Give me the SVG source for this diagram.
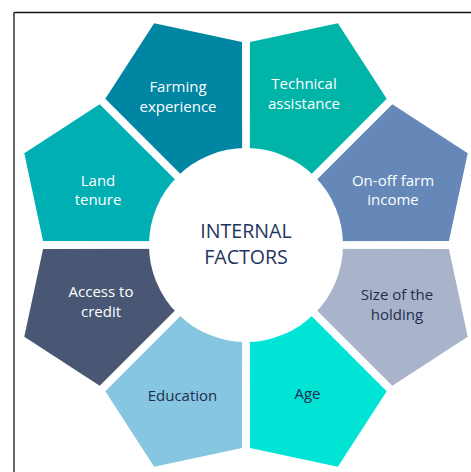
<svg xmlns="http://www.w3.org/2000/svg" xmlns:xlink="http://www.w3.org/1999/xlink" width="471" height="472" viewBox="0 0 471 472">
  <style>
    .lbl { font-family: "Open Sans", "Noto Sans", "Liberation Sans", sans-serif; font-size: 15px; text-anchor: middle; }
    .light { fill: #FFFFFF; }
    .dark { fill: #1F2D50; }
    .center { font-family: "Open Sans", "Noto Sans", "Liberation Sans", sans-serif; font-size: 19.6px; text-anchor: middle; fill: #1F3560; }
  </style>
  <defs>
    <polygon id="kite" points="0,-10 74,-189 0,-240 -74,-189"/>
  </defs>
  <rect x="0" y="0" width="471" height="472" fill="#FFFFFF"/>
  <g id="frame">
    <line x1="14" y1="12.5" x2="471" y2="12.5" stroke="#111111" stroke-width="1.4"/>
    <line x1="14" y1="12" x2="14" y2="472" stroke="#555555" stroke-width="1.8"/>
  </g>
  <g id="connectors"></g>
  <g id="node-farming">
    <use xlink:href="#kite" href="#kite" transform="translate(246 245) rotate(-22.5)" fill="#0085A3"/>
    <text class="lbl light"><tspan x="178" y="92">Farming</tspan><tspan x="178" y="112">experience</tspan></text>
  </g>
  <g id="node-technical">
    <use xlink:href="#kite" href="#kite" transform="translate(246 245) rotate(22.5)" fill="#00B4A8"/>
    <text class="lbl light"><tspan x="304" y="89">Technical</tspan><tspan x="304" y="108.5">assistance</tspan></text>
  </g>
  <g id="node-onoff">
    <use xlink:href="#kite" href="#kite" transform="translate(246 245) rotate(67.5)" fill="#6688B8"/>
    <text class="lbl light"><tspan x="393" y="185.5">On-off farm</tspan><tspan x="393" y="205">income</tspan></text>
  </g>
  <g id="node-size">
    <use xlink:href="#kite" href="#kite" transform="translate(246 245) rotate(112.5)" fill="#A9B4CA"/>
    <text class="lbl dark"><tspan x="397" y="299.5">Size of the</tspan><tspan x="397" y="319.5">holding</tspan></text>
  </g>
  <g id="node-age">
    <use xlink:href="#kite" href="#kite" transform="translate(246 245) rotate(157.5)" fill="#00E4D6"/>
    <text class="lbl dark" x="307.5" y="398.5">Age</text>
  </g>
  <g id="node-education">
    <use xlink:href="#kite" href="#kite" transform="translate(246 245) rotate(202.5)" fill="#86C6E1"/>
    <text class="lbl dark" x="182.5" y="401">Education</text>
  </g>
  <g id="node-credit">
    <use xlink:href="#kite" href="#kite" transform="translate(246 245) rotate(247.5)" fill="#4A5774"/>
    <text class="lbl light"><tspan x="101" y="297">Access to</tspan><tspan x="101" y="316.5">credit</tspan></text>
  </g>
  <g id="node-land">
    <use xlink:href="#kite" href="#kite" transform="translate(246 245) rotate(-67.5)" fill="#00AFB3"/>
    <text class="lbl light"><tspan x="98" y="185.5">Land</tspan><tspan x="98" y="205">tenure</tspan></text>
  </g>
  <g id="node-internal">
    <circle cx="246" cy="245" r="97" fill="#FFFFFF"/>
    <text class="center"><tspan x="246" y="237.6">INTERNAL</tspan><tspan x="246" y="264.4">FACTORS</tspan></text>
  </g>
</svg>
